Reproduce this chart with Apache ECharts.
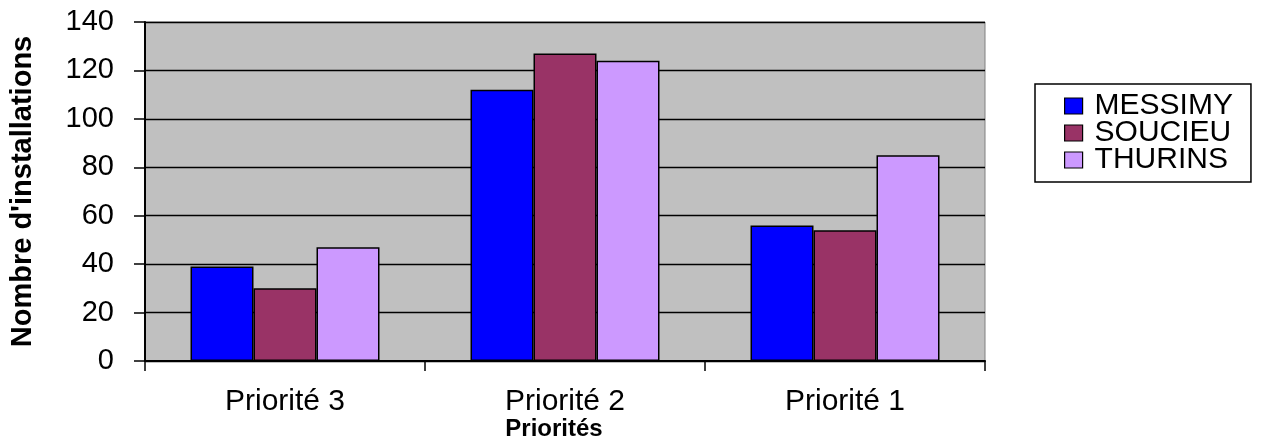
<!DOCTYPE html>
<html>
<head>
<meta charset="utf-8">
<script src="https://cdn.jsdelivr.net/npm/echarts@6/dist/echarts.min.js"></script>
<style>
html,body{margin:0;padding:0;background:#fff;}
#c{width:1262px;height:443px;}
</style>
</head>
<body>
<div id="c"></div>
<script>
const categories = ['Priorité 3', 'Priorité 2', 'Priorité 1'];
const seriesNames = ['MESSIMY', 'SOUCIEU', 'THURINS'];
const messimy = [39, 112, 56];
const soucieu = [30, 127, 54];
const thurins = [47, 124, 85];
const yTicks = [0, 20, 40, 60, 80, 100, 120, 140];
const colors = ['#0000FF', '#993366', '#CC99FF'];

const FONT = '"Liberation Sans", Arial, sans-serif';
const chart = echarts.init(document.getElementById('c'));
const values = [messimy, soucieu, thurins];

chart.setOption({
  animation: false,
  backgroundColor: '#ffffff',
  textStyle: { fontFamily: FONT, color: '#000' },
  title: {
    text: 'Priorités',
    left: 549, top: 412, textAlign: 'center',
    textStyle: { fontFamily: FONT, fontSize: 24, fontWeight: 'bold', color: '#000' }
  },
  legend: {
    orient: 'vertical',
    left: 1035, top: 84,
    data: seriesNames,
    icon: 'rect',
    itemWidth: 18, itemHeight: 16, itemGap: -3,
    padding: [7, 18, 7, 29],
    borderColor: '#000', borderWidth: 1.5,
    backgroundColor: '#fff',
    textStyle: { fontFamily: FONT, fontSize: 30, color: '#000', lineHeight: 27, padding: [0, 0, 0, 7] },
    itemStyle: { borderColor: '#000', borderWidth: 1.2 }
  },
  grid: { left: 145, right: 277, top: 22, bottom: 82, show: true, backgroundColor: '#C0C0C0', borderColor: '#808080', borderWidth: 1 },
  xAxis: {
    type: 'category',
    data: categories,
    boundaryGap: true,
    axisLine: { lineStyle: { color: '#000', width: 2 } },
    axisTick: { show: true, length: 10, lineStyle: { color: '#000', width: 1.5 } },
    axisLabel: { fontFamily: FONT, fontSize: 30, color: '#000', margin: 26 },
    splitLine: { show: false }
  },
  yAxis: {
    type: 'value',
    min: yTicks[0], max: yTicks[yTicks.length - 1], interval: 20,
    name: "Nombre d'installations",
    nameLocation: 'middle', nameRotate: 90, nameGap: 108,
    nameTextStyle: { fontFamily: FONT, fontSize: 29, fontWeight: 'bold', color: '#000' },
    axisLine: { show: true, lineStyle: { color: '#000', width: 2 } },
    axisTick: { show: true, length: 11, lineStyle: { color: '#000', width: 1.5 } },
    axisLabel: { fontFamily: FONT, fontSize: 29, color: '#000', margin: 31 },
    splitLine: { show: true, lineStyle: { color: '#000', width: 1.3 } }
  },
  series: seriesNames.map((n, i) => ({
    name: n,
    type: 'bar',
    data: values[i],
    barGap: '0%',
    barCategoryGap: '32.5%',
    itemStyle: { color: colors[i], borderColor: '#000', borderWidth: 1.5 }
  }))
});
</script>
</body>
</html>
